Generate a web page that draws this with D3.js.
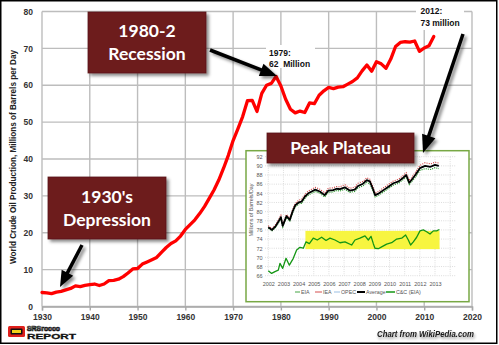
<!DOCTYPE html>
<html><head><meta charset="utf-8">
<script src="https://cdn.jsdelivr.net/npm/d3@7/dist/d3.min.js"></script>
<style>body{margin:0;background:#fff}svg{display:block}</style>
</head><body>
<svg id="c" width="499" height="345"></svg>
<script>
// ---------- DATA ----------
const mainYears = [1930,1931,1932,1933,1934,1935,1936,1937,1938,1939,1940,1941,1942,1943,1944,1945,1946,1947,1948,1949,
  1950,1951,1952,1953,1954,1955,1956,1957,1958,1959,1960,1961,1962,1963,1964,1965,1966,1967,1968,1969,
  1970,1971,1972,1973,1974,1975,1976,1977,1978,1979,1980,1981,1982,1983,1984,1985,1986,1987,1988,1989,
  1990,1991,1992,1993,1994,1995,1996,1997,1998,1999,2000,2001,2002,2003,2004,2005,2006,2007,2008,2009,
  2010,2011,2012];
const mainProduction = [3.8,3.7,3.5,3.9,4.1,4.5,4.9,5.6,5.4,5.7,5.9,6.1,5.7,6.1,7.0,7.1,7.4,8.1,9.1,10.2,
  10.3,11.5,12.1,12.7,13.3,14.7,16.0,17.1,17.8,19.1,20.9,22.2,23.5,25.2,27.1,29.3,31.6,34.3,37.5,41.0,
  45.0,48.2,51.5,55.8,55.9,52.9,57.8,60.0,60.5,62.4,59.8,56.2,53.5,52.5,53.0,52.6,55.2,55.0,57.3,58.5,
  59.4,59.1,59.5,59.6,60.3,61.0,62.0,63.9,65.5,63.8,66.4,65.8,64.6,67.1,70.5,71.6,71.8,71.7,72.0,69.2,
  70.1,70.7,73.2];
const mainYTicks = [0,10,20,30,40,50,60,70,80];
const mainXTicks = [1930,1940,1950,1960,1970,1980,1990,2000,2010,2020];

// inset (all liquids)
const insetDates = [2002.00,2002.25,2002.50,2002.70,2002.83,2002.95,2003.20,2003.42,2003.60,2003.78,
  2004.00,2004.20,2004.42,2004.64,2004.86,2005.10,2005.40,2005.72,2005.96,2006.28,
  2006.50,2006.72,2007.05,2007.37,2007.70,2007.92,2008.25,2008.50,2008.70,2008.90,
  2009.05,2009.30,2009.60,2009.90,2010.25,2010.60,2010.90,2011.10,2011.30,2011.45,
  2011.70,2012.00,2012.35,2012.70,2013.00,2013.25];
const insetAverage = [76.6,76.0,76.9,78.0,78.8,76.9,79.0,78.2,80.0,81.4,
  82.0,82.2,83.3,84.0,84.4,84.8,84.4,83.6,84.6,84.7,
  85.0,84.9,85.3,84.6,84.8,85.6,86.1,86.9,86.6,85.0,
  83.6,84.0,84.7,85.4,86.2,86.6,87.4,88.0,86.3,86.9,
  88.0,89.5,90.0,89.8,90.2,90.0];
const insetIEA = [76.9,76.3,77.2,78.4,79.2,77.2,79.4,78.6,80.4,81.8,
  82.5,82.7,83.8,84.5,84.9,85.3,84.9,84.1,85.1,85.2,
  85.5,85.4,85.9,85.1,85.3,86.2,86.6,87.4,87.1,85.5,
  84.0,84.5,85.2,85.9,86.7,87.1,87.9,88.5,86.8,87.4,
  88.6,90.1,90.7,90.4,90.8,90.6];
const insetEIA = [76.4,75.8,76.6,77.7,78.5,76.6,78.7,77.9,79.7,81.0,
  81.7,81.8,82.9,83.6,84.0,84.4,84.0,83.2,84.2,84.3,
  84.6,84.5,84.9,84.2,84.4,85.2,85.6,86.4,86.1,84.6,
  83.2,83.6,84.3,85.0,85.8,86.2,87.0,87.6,85.9,86.5,
  87.5,89.0,89.4,89.2,89.6,89.4];
const insetOPEC = [76.5,75.9,76.8,77.9,78.7,76.8,78.9,78.1,79.9,81.3,
  81.9,82.1,83.2,83.9,84.3,84.7,84.3,83.5,84.5,84.6,
  84.9,84.8,85.2,84.5,84.7,85.5,86.0,86.8,86.5,84.9,
  83.5,83.9,84.6,85.3,86.1,86.5,87.3,87.9,86.2,86.8,
  87.9,89.4,89.9,89.7,90.1,89.9];
const ccDates = [2002.00,2002.22,2002.44,2002.66,2002.77,2002.95,2003.17,2003.39,2003.65,2003.87,
  2004.09,2004.31,2004.49,2004.71,2004.97,2005.23,2005.52,2005.81,2006.07,2006.40,
  2006.73,2007.06,2007.50,2007.72,2008.05,2008.38,2008.60,2008.78,2008.93,2009.04,
  2009.26,2009.48,2009.81,2010.14,2010.47,2010.80,2011.06,2011.24,2011.39,2011.57,
  2011.79,2012.01,2012.23,2012.45,2012.67,2012.89,2013.11,2013.29];
const ccValues = [67.1,66.5,66.9,67.2,68.7,67.6,69.8,68.3,69.8,71.6,
  72.2,72.0,73.4,73.0,74.2,73.8,74.4,73.7,74.2,73.8,
  73.2,73.4,72.7,73.8,74.2,74.7,73.8,74.6,73.0,72.0,
  71.9,72.3,72.9,73.2,74.0,74.2,74.9,73.8,72.7,73.4,
  74.4,75.8,76.0,75.6,75.1,75.8,75.8,76.1];
const plateauBand = [2004.45, 2013.3, 71.8, 75.8]; // x0, x1, y0, y1
const insetYTicks = [66,68,70,72,74,76,78,80,82,84,86,88,90,92];
const insetXTicks = [2002,2003,2004,2005,2006,2007,2008,2009,2010,2011,2012,2013];
const legendItems = ["EIA","IEA","OPEC","Average","C&C (EIA)"];

// ---------- DRAW ----------
const svg = d3.select("#c");
const defs = svg.append("defs");
const sh = defs.append("filter").attr("id","sh").attr("x","-20%").attr("y","-20%").attr("width","150%").attr("height","160%");
sh.append("feDropShadow").attr("dx",2.5).attr("dy",2.5).attr("stdDeviation",1.6).attr("flood-color","#000").attr("flood-opacity",0.45);
const glow = defs.append("filter").attr("id","glow").attr("x","-10%").attr("y","-50%").attr("width","120%").attr("height","200%");
glow.append("feGaussianBlur").attr("in","SourceAlpha").attr("stdDeviation",1.8).attr("result","b");
glow.append("feOffset").attr("in","b").attr("dx",1).attr("dy",2).attr("result","o");
glow.append("feComponentTransfer").attr("in","o").attr("result","o2").append("feFuncA").attr("type","linear").attr("slope",0.45);
const gm = glow.append("feMerge"); gm.append("feMergeNode").attr("in","o2"); gm.append("feMergeNode").attr("in","SourceGraphic");

svg.append("rect").attr("x",0).attr("y",0).attr("width",499).attr("height",345).attr("fill","#fff");

const x = d3.scaleLinear().domain([1930,2020]).range([42,472]);
const y = d3.scaleLinear().domain([0,80]).range([306.5,11.5]);

const grid = svg.append("g").attr("stroke","#bdbdbd").attr("stroke-width",1.4);
grid.selectAll("line.h").data(mainYTicks).join("line").attr("class","h")
  .attr("x1",x(1930)).attr("x2",x(2020)).attr("y1",d=>y(d)).attr("y2",d=>y(d));
grid.selectAll("line.v").data(mainXTicks).join("line").attr("class","v")
  .attr("x1",d=>x(d)).attr("x2",d=>x(d)).attr("y1",y(80)).attr("y2",y(0));

const xAxis = svg.append("g").attr("transform",`translate(0,${y(0)})`)
  .call(d3.axisBottom(x).tickValues(mainXTicks).tickFormat(d3.format("d")).tickSize(4).tickPadding(3));
xAxis.select(".domain").attr("stroke","#a8a8a8").attr("stroke-width",1.4);
xAxis.selectAll(".tick line").attr("stroke","#a8a8a8").attr("stroke-width",1.4);
xAxis.selectAll("text").attr("font-family","Liberation Sans, Arial, sans-serif").attr("font-weight","bold").attr("font-size",8.5).attr("fill","#333");

const yAxis = svg.append("g").attr("transform",`translate(${x(1930)},0)`)
  .call(d3.axisLeft(y).tickValues(mainYTicks).tickSize(0).tickPadding(9));
yAxis.select(".domain").remove();
yAxis.selectAll("text").attr("font-family","Liberation Sans, Arial, sans-serif").attr("font-weight","bold").attr("font-size",8.5).attr("fill","#333");

svg.append("text").attr("transform","translate(16,157) rotate(-90)").attr("text-anchor","middle")
  .attr("font-family","Liberation Sans, Arial, sans-serif").attr("font-weight","bold").attr("font-size",8.5).attr("fill","#222")
  .attr("textLength",214).attr("lengthAdjust","spacingAndGlyphs")
  .text("World Crude Oil Production, Millions of Barrels per Day");

// main series
const line = d3.line().x((d,i)=>x(mainYears[i])).y(d=>y(d)).curve(d3.curveLinear);
svg.append("path").datum(mainProduction).attr("d",line).attr("fill","none").attr("stroke","#ff0000")
  .attr("stroke-width",3.3).attr("stroke-linejoin","round").attr("stroke-linecap","round");

// ---------- INSET ----------
const inset = svg.append("g");
inset.append("rect").attr("x",246).attr("y",150.7).attr("width",223).attr("height",151)
  .attr("fill","#fff").attr("stroke","#78a845").attr("stroke-width",1.5);
const ix = d3.scaleLinear().domain([2002,2013]).range([268.3,435]);
const iy = d3.scaleLinear().domain([66,92]).range([275.7,156.7]);
const ig = inset.append("g").attr("stroke","#cfcfcf").attr("stroke-width",0.7).attr("stroke-dasharray","1,1.2");
ig.selectAll("line.h").data(insetYTicks).join("line").attr("class","h")
  .attr("x1",265).attr("x2",456).attr("y1",d=>iy(d)).attr("y2",d=>iy(d));
ig.selectAll("line.v").data(insetXTicks.concat([2014])).join("line").attr("class","v")
  .attr("x1",d=>ix(d)).attr("x2",d=>ix(d)).attr("y1",iy(92)).attr("y2",iy(66));

inset.append("rect").attr("x",ix(plateauBand[0])).attr("width",ix(plateauBand[1])-ix(plateauBand[0]))
  .attr("y",iy(plateauBand[3])).attr("height",iy(plateauBand[2])-iy(plateauBand[3])).attr("fill","#f7f540");

const iyAxis = inset.append("g").attr("transform","translate(265,0)")
  .call(d3.axisLeft(iy).tickValues(insetYTicks).tickSize(0).tickPadding(2.5));
iyAxis.select(".domain").remove();
iyAxis.selectAll("text").attr("font-family","Liberation Sans, Arial, sans-serif").attr("font-size",5.5).attr("fill","#555");
const ixAxis = inset.append("g").attr("transform",`translate(0,${iy(66)})`)
  .call(d3.axisBottom(ix).tickValues(insetXTicks).tickFormat(d3.format("d")).tickSize(0).tickPadding(6));
ixAxis.select(".domain").remove();
ixAxis.selectAll("text").attr("font-family","Liberation Sans, Arial, sans-serif").attr("font-size",5.5).attr("fill","#555");
inset.append("text").attr("transform","translate(253,210) rotate(-90)").attr("text-anchor","middle")
  .attr("font-family","Liberation Sans, Arial, sans-serif").attr("font-size",5.3).attr("fill","#555")
  .text("Millions of Barrels/Day");

const iline = d3.line().x((d,i)=>ix(insetDates[i])).y(d=>iy(d));
inset.append("path").datum(insetOPEC).attr("d",iline).attr("fill","none").attr("stroke","#8fb8e0").attr("stroke-width",1).attr("stroke-dasharray","1,1");
inset.append("path").datum(insetEIA).attr("d",iline).attr("fill","none").attr("stroke","#2f9a2f").attr("stroke-width",1.1).attr("stroke-dasharray","1.2,1");
inset.append("path").datum(insetIEA).attr("d",iline).attr("fill","none").attr("stroke","#d03a3a").attr("stroke-width",1.1).attr("stroke-dasharray","1,1.3");
inset.append("path").datum(insetAverage).attr("d",iline).attr("fill","none").attr("stroke","#000").attr("stroke-width",1.8).attr("stroke-linejoin","round");
const ccline = d3.line().x((d,i)=>ix(ccDates[i])).y(d=>iy(d));
inset.append("path").datum(ccValues).attr("d",ccline).attr("fill","none").attr("stroke","#149614").attr("stroke-width",1.3).attr("stroke-linejoin","round");

// legend
const legColors = ["#2f9a2f","#d03a3a","#8fb8e0","#000","#149614"];
const legWidths = [0.9,0.9,0.9,2,1.5];
const legX = [295,315,334,357,386];
const legTextX = [301,323,341,366,396];
const lg = inset.append("g");
legendItems.forEach((name,i)=>{
  lg.append("line").attr("x1",legX[i]).attr("x2",legTextX[i]-1).attr("y1",292).attr("y2",292)
    .attr("stroke",legColors[i]).attr("stroke-width",legWidths[i]);
  lg.append("text").attr("x",legTextX[i]).attr("y",294).attr("font-family","Liberation Sans, Arial, sans-serif")
    .attr("font-size",5.3).attr("fill","#555").text(name);
});

// ---------- ANNOTATIONS ----------
function arrow(x1,y1,x2,y2,w,hl,hw){
  const a = Math.atan2(y2-y1,x2-x1), c=Math.cos(a), s=Math.sin(a);
  const bx = x2-hl*c, by = y2-hl*s;
  const g = svg.append("g").attr("filter","url(#sh)");
  g.append("line").attr("x1",x1).attr("y1",y1).attr("x2",bx+2*c).attr("y2",by+2*s).attr("stroke","#000").attr("stroke-width",w);
  g.append("path").attr("d",`M${x2},${y2}L${bx - hw*s},${by + hw*c}L${bx + hw*s},${by - hw*c}Z`).attr("fill","#000");
}
function box(x0,y0,w,h,lines,fs){
  const g = svg.append("g");
  g.append("rect").attr("x",x0).attr("y",y0).attr("width",w).attr("height",h).attr("fill","#6d1a1e")
    .attr("stroke","#5a1418").attr("stroke-width",0.8).attr("filter","url(#sh)");
  const n = lines.length;
  lines.forEach((t,i)=>{
    g.append("text").attr("x",x0+w/2).attr("y",y0+h/2+(i-(n-1)/2)*fs*1.3).attr("dy","0.36em")
      .attr("text-anchor","middle").attr("font-family","Lato, 'Open Sans', sans-serif").attr("font-weight","bold")
      .attr("font-size",fs).attr("fill","#fff").text(t);
  });
}

// white label backgrounds
svg.append("rect").attr("x",266).attr("y",45).attr("width",49).attr("height",23).attr("fill","#fff");
svg.append("rect").attr("x",416).attr("y",3).attr("width",48).attr("height",27).attr("fill","#fff");

box(88,12,118,61,["1980-2","Recession"],17.5);
box(48,177,118,62,["1930's","Depression"],17.5);
box(267,133,147,30,["Peak Plateau"],17.5);

arrow(210,50,277,76,3.5,17,6.5);
arrow(82,245,60,287,3.5,16,6.5);
arrow(463,34,423,153,3.5,18,7);

const lbl = (t,xx,yy)=>svg.append("text").attr("x",xx).attr("y",yy).attr("font-family","Liberation Sans, Arial, sans-serif")
  .attr("font-weight","bold").attr("font-size",8.5).attr("fill","#111").attr("xml:space","preserve").text(t);
lbl("1979:",269,55.5); lbl("62  Million",269,66.5);
lbl("2012:",420.5,13.5); lbl("73 million",420.5,25.5);

// credit
svg.append("text").attr("x",474).attr("y",336.5).attr("text-anchor","end").attr("filter","url(#glow)")
  .attr("font-family","Liberation Sans, Arial, sans-serif").attr("font-weight","bold").attr("font-style","italic")
  .attr("font-size",8.5).attr("fill","#1a1a1a").attr("textLength",97).attr("lengthAdjust","spacingAndGlyphs")
  .text("Chart from WikiPedia.com");

// logo
const logo = svg.append("g");
logo.append("rect").attr("x",8).attr("y",326).attr("width",17).attr("height",11).attr("rx",1.5).attr("fill","#e0201c");
logo.append("rect").attr("x",10.5).attr("y",328.5).attr("width",12).attr("height",6).attr("rx",1).attr("fill","#111");
logo.append("rect").attr("x",12).attr("y",330).attr("width",9).attr("height",3).attr("fill","#f2d21b");
logo.append("text").attr("x",27).attr("y",330.5).attr("font-family","Liberation Sans, Arial, sans-serif").attr("font-weight","bold")
  .attr("font-size",6.5).attr("fill","#fff").attr("stroke","#111").attr("stroke-width",0.7).attr("textLength",33).attr("lengthAdjust","spacingAndGlyphs").text("SRSrocco");
logo.append("text").attr("x",27).attr("y",339.3).attr("font-family","Liberation Sans, Arial, sans-serif").attr("font-weight","900")
  .attr("font-size",7.5).attr("fill","#111").attr("stroke","#111").attr("stroke-width",0.3).attr("textLength",49).attr("lengthAdjust","spacingAndGlyphs").text("REPORT");

// frame
svg.append("rect").attr("x",0.75).attr("y",0.75).attr("width",496).attr("height",342.5).attr("fill","none")
  .attr("stroke","#000").attr("stroke-width",1.5);
</script>
</body></html>
